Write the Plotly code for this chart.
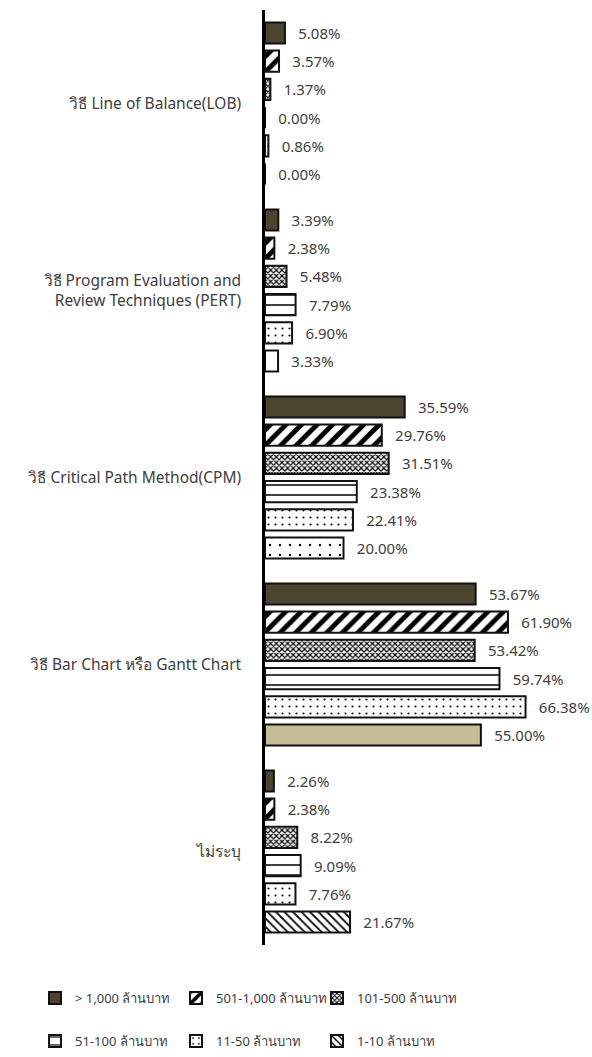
import plotly.graph_objects as go

# categories top to bottom
categories = ['วิธี Line of Balance(LOB)',
              'วิธี Program Evaluation and<br>Review Techniques (PERT)',
              'วิธี Critical Path Method(CPM)',
              'วิธี Bar Chart หรือ Gantt Chart',
              'ไม่ระบุ']

series_names = ['> 1,000 ล้านบาท', '501-1,000 ล้านบาท', '101-500 ล้านบาท',
                '51-100 ล้านบาท', '11-50 ล้านบาท', '1-10 ล้านบาท']

over_1000 = [5.08, 3.39, 35.59, 53.67, 2.26]
from_501_1000 = [3.57, 2.38, 29.76, 61.90, 2.38]
from_101_500 = [1.37, 5.48, 31.51, 53.42, 8.22]
from_51_100 = [0.00, 7.79, 23.38, 59.74, 9.09]
from_11_50 = [0.86, 6.90, 22.41, 66.38, 7.76]
from_1_10 = [0.00, 3.33, 20.00, 55.00, 21.67]

values = [over_1000, from_501_1000, from_101_500, from_51_100, from_11_50, from_1_10]

OLIVE = '#4b4530'
TAN = '#c4bd97'
TEXT = '#404040'

# fill style of each series
styles = [
    dict(color=OLIVE, shape='', size=8, solidity=0.3),
    dict(color='white', shape='/', size=11, solidity=0.45),
    dict(color='white', shape='x', size=4, solidity=0.5),
    dict(color='white', shape='-', size=10, solidity=0.15),
    dict(color='white', shape='.', size=7, solidity=0.07),
]
# the 1-10 series is styled point by point in the original, so it is split
# into sub-traces sharing one offset group; (point indices, style)
small_styles = [
    ([0, 4], dict(color='white', shape='\\', size=6, solidity=0.3)),
    ([1], dict(color='white', shape='', size=8, solidity=0.3)),
    ([2], dict(color='white', shape='.', size=10, solidity=0.045)),
    ([3], dict(color=TAN, shape='', size=8, solidity=0.3)),
]

font_family = '"Noto Sans", "Open Sans", sans-serif'
FS = 15
pad = '\u00a0\u00a0\u2009'


def make_bar(name, xs, st, group, legend, show):
    return go.Bar(
        y=categories, x=xs, name=name, orientation='h',
        offsetgroup=group, legend=legend, legendgroup=group, showlegend=show,
        marker=dict(color=st['color'],
                    line=dict(color='#111111', width=2),
                    pattern=dict(shape=st['shape'], size=st['size'],
                                 solidity=st['solidity'], fgcolor='black',
                                 fillmode='replace')),
        texttemplate=pad + '%{x:.2f}%', textposition='outside',
        constraintext='none', cliponaxis=False,
        textfont=dict(size=FS, color=TEXT, family=font_family),
    )


fig = go.Figure()
for k, (name, vals, st) in enumerate(zip(series_names[:5], values[:5], styles)):
    legend = 'legend' if k < 3 else 'legend2'
    fig.add_trace(make_bar(name, vals, st, 'g%d' % k, legend, True))

for j, (idx, st) in enumerate(small_styles):
    xs = [from_1_10[i] if i in idx else None for i in range(len(categories))]
    fig.add_trace(make_bar(series_names[5], xs, st, 'g5', 'legend2', j == 0))

legend_common = dict(orientation='h', xanchor='left', yanchor='middle', entrywidth=96,
                     font=dict(size=13, color=TEXT, family=font_family),
                     traceorder='normal', bgcolor='rgba(0,0,0,0)')

fig.update_layout(
    barmode='group', bargap=0.095, bargroupgap=0.25,
    width=592, height=1057,
    margin=dict(l=265, r=13, t=10, b=112, autoexpand=False),
    plot_bgcolor='white', paper_bgcolor='white',
    font=dict(family=font_family, size=FS, color=TEXT),
    legend=dict(x=-0.7325, y=(945 - 998) / 935, **legend_common),
    legend2=dict(x=-0.7325, y=(945 - 1041) / 935, **legend_common),
)
fig.update_xaxes(range=[0, 80], visible=False)
fig.update_yaxes(autorange='reversed', showline=True, linecolor='black', linewidth=2.5,
                 ticks='', ticklabelstandoff=18, showgrid=False,
                 tickfont=dict(size=15.5, color=TEXT))

# drop the default page margin so the figure sits at the window's corner
fig.write_html('out.html', config={'displayModeBar': False},
               post_script="document.body.style.margin='0';")
